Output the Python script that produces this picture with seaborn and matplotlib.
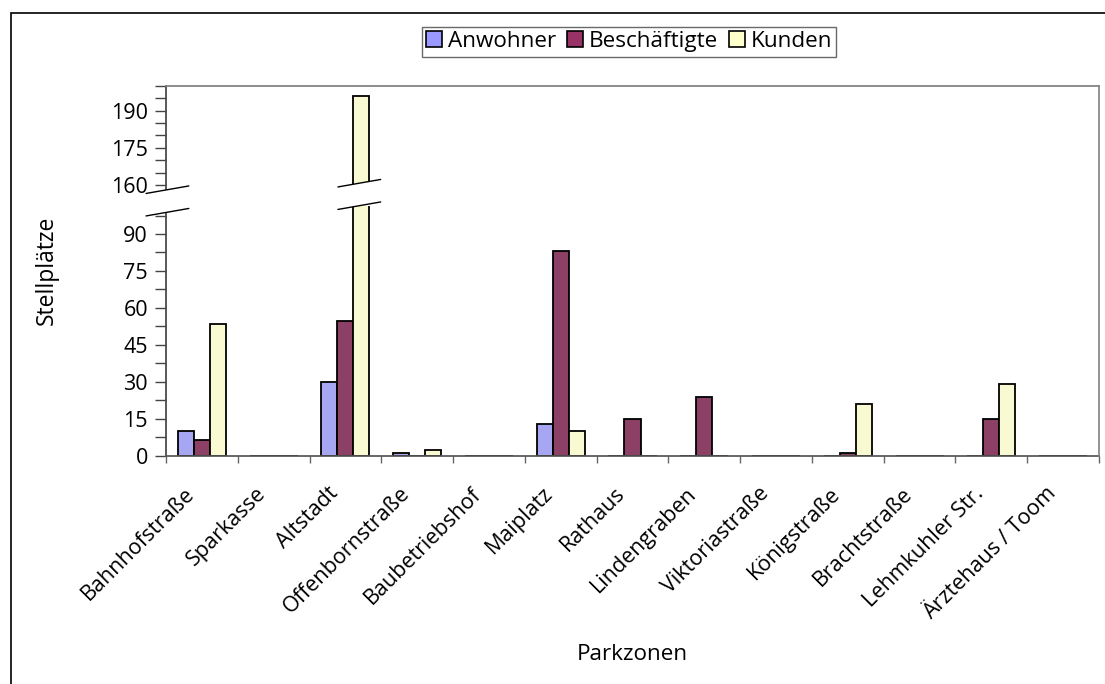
import numpy as np
import pandas as pd
import seaborn as sns
import matplotlib.pyplot as plt
from matplotlib import transforms
from matplotlib.lines import Line2D
from matplotlib.patches import Polygon, Rectangle, Patch

# data
zonen = ['Bahnhofstraße', 'Sparkasse', 'Altstadt', 'Offenbornstraße', 'Baubetriebshof',
         'Maiplatz', 'Rathaus', 'Lindengraben', 'Viktoriastraße', 'Königstraße',
         'Brachtstraße', 'Lehmkuhler Str.', 'Ärztehaus / Toom']
anwohner = [10, 0, 30, 1, 0, 13, 0, 0, 0, 0, 0, 0, 0]
beschaeftigte = [6.5, 0, 54.5, 0, 0, 83, 15, 24, 0, 1, 0, 15, 0]
kunden = [53.5, 0, 196, 2.5, 0, 10, 0, 0, 0, 21, 0, 29, 0]
gruppen = ['Anwohner', 'Beschäftigte', 'Kunden']
farben = ['#9999FF', '#993366', '#FFFFCC']

df = pd.DataFrame({
    'Parkzone': zonen * 3,
    'Stellplätze': anwohner + beschaeftigte + kunden,
    'Gruppe': np.repeat(gruppen, len(zonen)),
})

sns.set_theme(style='white')
plt.rcParams['font.family'] = ['Open Sans', 'DejaVu Sans']
plt.rcParams['text.color'] = 'black'
plt.rcParams['xtick.labelcolor'] = 'black'
plt.rcParams['ytick.labelcolor'] = 'black'

W, H = 1105, 684
fig = plt.figure(figsize=(W / 100, H / 100), dpi=100)

# broken y axis: lower part 0..~100, upper part 157.5..200
ax_lo = fig.add_axes([166 / W, 1 - 455.7 / H, 933 / W, 250 / H])
ax_hi = fig.add_axes([166 / W, 1 - 191.5 / H, 933 / W, 105.8 / H])

bar_w = 0.67
for ax in (ax_lo, ax_hi):
    sns.barplot(data=df, x='Parkzone', y='Stellplätze', hue='Gruppe',
                palette=farben, width=bar_w, edgecolor='black', linewidth=1.3,
                errorbar=None, legend=False, ax=ax)
    ax.set_xlim(-0.5, len(zonen) - 0.5)
    ax.set_xlabel('')
    ax.set_ylabel('')
    ax.tick_params(axis='y', which='both', direction='out', length=8, width=1,
                   color='#444444', left=True, labelsize=15.5, pad=5)
    ax.spines['left'].set_color('#444444')
    ax.spines['right'].set_visible(False)

ax_lo.set_ylim(0, 101.5)
ax_lo.set_yticks(np.arange(0, 91, 15))
ax_lo.set_yticks(np.arange(7.5, 100, 15), minor=True)
ax_lo.spines['top'].set_visible(False)
ax_lo.spines['bottom'].set_color('#555555')
ax_lo.set_xticks(np.arange(len(zonen)), zonen, rotation=45, ha='right',
                 rotation_mode='anchor', fontsize=15.5)
ax_lo.set_xticks(np.arange(-0.5, len(zonen)), minor=True)
ax_lo.tick_params(axis='x', which='major', length=0, pad=14)
ax_lo.tick_params(axis='x', which='minor', bottom=True, direction='out',
                  length=5, width=1, color='#666666')
shift = transforms.ScaledTranslation(-18 / 100, -8 / 100, fig.dpi_scale_trans)
for lab in ax_lo.get_xticklabels():
    lab.set_transform(lab.get_transform() + shift)

ax_hi.set_ylim(157.5, 200)
ax_hi.set_yticks([160, 175, 190])
ax_hi.set_yticks([165, 170, 180, 185, 195, 200], minor=True)
ax_hi.spines['bottom'].set_visible(False)
ax_hi.spines['top'].set_color('#808080')
ax_hi.set_xticks([])

# right border of plot area, running through the break
x_r = ax_lo.get_position().x1
fig.add_artist(Line2D([x_r, x_r], [ax_lo.get_position().y0, ax_hi.get_position().y1],
                      color='#808080', lw=1.2))

# break marks (white gap between two slanted lines)
tr = transforms.blended_transform_factory(ax_lo.transData, fig.transFigure)
half = 0.298
slope = 7.5 / H
gap = 22.5 / H


def break_mark(xc, y_top_px):
    yc = 1 - y_top_px / H
    x0, x1 = xc - half, xc + half
    up = [(x0, yc - slope / 2), (x1, yc + slope / 2)]
    dn = [(x0, yc - slope / 2 - gap), (x1, yc + slope / 2 - gap)]
    fig.add_artist(Polygon([up[0], up[1], dn[1], dn[0]], closed=True,
                           facecolor='white', edgecolor='none', transform=tr, zorder=5))
    for seg in (up, dn):
        fig.add_artist(Line2D([seg[0][0], seg[1][0]], [seg[0][1], seg[1][1]],
                              color='black', lw=1, transform=tr, zorder=6))


break_mark(-0.48, 189.7)
break_mark(zonen.index('Altstadt') + bar_w / 3 - 0.03, 183.2)

# legend
handles = [Patch(facecolor=c, edgecolor='black', lw=1.2) for c in farben]
leg = fig.legend(handles, gruppen, loc='center', bbox_to_anchor=(629 / W, 1 - 41.5 / H),
                 ncol=3, fontsize=16.2, frameon=True, fancybox=False, shadow=False,
                 handlelength=0.7, handleheight=0.7, handletextpad=0.25,
                 columnspacing=0.5, borderpad=0.2, borderaxespad=0)
leg.get_frame().set_edgecolor('#444444')
leg.get_frame().set_linewidth(1)

# axis titles
fig.text(47 / W, 1 - 270 / H, 'Stellplätze', rotation=90, ha='center', va='center',
         fontsize=16.5)
fig.text(632 / W, 1 - 655 / H, 'Parkzonen', ha='center', va='center', fontsize=16.2)

# outer chart frame
fig.add_artist(Rectangle((11 / W, -0.05), 1.2, 1 - 13 / H + 0.05, transform=fig.transFigure,
                         fill=False, edgecolor='black', lw=1.2))

fig.savefig('out.png', dpi=100)
